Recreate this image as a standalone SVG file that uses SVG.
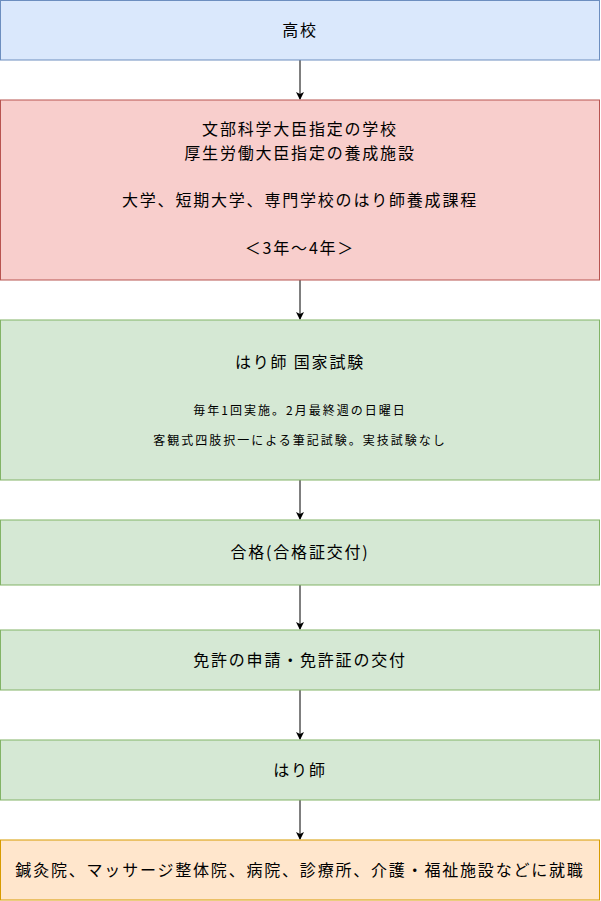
<svg xmlns="http://www.w3.org/2000/svg" width="601" height="901" viewBox="0 0 601 901">
<style>
text{font-family:"Noto Sans CJK JP","Liberation Sans",sans-serif;font-size:16px;fill:#000;text-anchor:middle;letter-spacing:1.8px}
.s{font-size:12px;letter-spacing:2px}
.e{stroke:#000;stroke-width:1;fill:none}
</style>
<defs><marker id="a" markerWidth="8" markerHeight="8" refX="7" refY="4" orient="auto" markerUnits="userSpaceOnUse"><path d="M0,0L8,4L0,8L2,4Z" fill="#000"/></marker></defs>
<g id="connectors">
<path class="e" d="M300,60V99" marker-end="url(#a)"/>
<path class="e" d="M300,280V319" marker-end="url(#a)"/>
<path class="e" d="M300,480V519" marker-end="url(#a)"/>
<path class="e" d="M300,585V629" marker-end="url(#a)"/>
<path class="e" d="M300,690V739" marker-end="url(#a)"/>
<path class="e" d="M300,800V839" marker-end="url(#a)"/>
</g>
<g id="n1"><rect x="0.5" y="0.5" width="599" height="59.5" fill="#dae8fc" stroke="#6c8ebf"/><text x="300" y="36">高校</text></g>
<g id="n2"><rect x="0.5" y="100" width="599" height="180" fill="#f8cecc" stroke="#b85450"/>
<text x="300" y="135">文部科学大臣指定の学校</text><text x="300" y="159">厚生労働大臣指定の養成施設</text>
<text x="300" y="206">大学、短期大学、専門学校のはり師養成課程</text><text x="300" y="254">＜3年～4年＞</text></g>
<g id="n3"><rect x="0.5" y="320" width="599" height="160" fill="#d5e8d4" stroke="#82b366"/>
<text x="300" y="368">はり師 国家試験</text><text class="s" x="300" y="415">毎年1回実施。2月最終週の日曜日</text><text class="s" x="300" y="445">客観式四肢択一による筆記試験。実技試験なし</text></g>
<g id="n4"><rect x="0.5" y="520" width="599" height="65" fill="#d5e8d4" stroke="#82b366"/><text x="300" y="558">合格(合格証交付)</text></g>
<g id="n5"><rect x="0.5" y="630" width="599" height="60" fill="#d5e8d4" stroke="#82b366"/><text x="300" y="666">免許の申請・免許証の交付</text></g>
<g id="n6"><rect x="0.5" y="740" width="599" height="60" fill="#d5e8d4" stroke="#82b366"/><text x="300" y="776">はり師</text></g>
<g id="n7"><rect x="0.5" y="840" width="599" height="60" fill="#ffe6cc" stroke="#d79b00"/><text x="300" y="876">鍼灸院、マッサージ整体院、病院、診療所、介護・福祉施設などに就職</text></g>
</svg>
